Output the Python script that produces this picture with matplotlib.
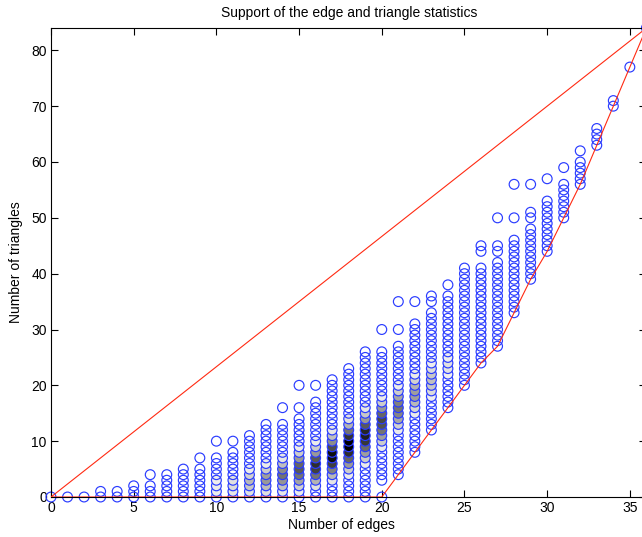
import matplotlib
matplotlib.use("Agg")
import matplotlib.pyplot as plt

plt.rcParams["font.family"] = ["Liberation Sans", "DejaVu Sans"]

# achievable triangle counts for each edge count, as runs [lo, hi]
edge_counts = list(range(37))
support_runs = [
    [(0, 0)], [(0, 0)], [(0, 0)], [(0, 1)], [(0, 1)], [(0, 2)],
    [(0, 2), (4, 4)], [(0, 4)], [(0, 5)], [(0, 5), (7, 7)],
    [(0, 7), (10, 10)], [(0, 8), (10, 10)], [(0, 11)], [(0, 13)],
    [(0, 13), (16, 16)], [(0, 14), (16, 16), (20, 20)], [(0, 17), (20, 20)],
    [(0, 21)], [(0, 23)], [(0, 26)], [(0, 0), (3, 26), (30, 30)],
    [(4, 27), (30, 30), (35, 35)], [(8, 31), (35, 35)], [(12, 33), (35, 36)],
    [(16, 36), (38, 38)], [(20, 41)], [(24, 41), (44, 45)],
    [(27, 42), (44, 45), (50, 50)], [(33, 46), (50, 50), (56, 56)],
    [(39, 48), (50, 51), (56, 56)], [(44, 53), (57, 57)], [(50, 56), (59, 59)],
    [(56, 60), (62, 62)], [(63, 66)], [(70, 71)], [(77, 77)], [(84, 84)],
]

# grey fill of the frequent points: edge count -> (first triangle count, grey levels)
shade = {
    10: (1, [0.93, 0.92, 0.93]),
    11: (1, [0.9, 0.86, 0.88]),
    12: (1, [0.88, 0.78, 0.72, 0.82, 0.92]),
    13: (1, [0.88, 0.74, 0.6, 0.62, 0.8, 0.92]),
    14: (1, [0.9, 0.76, 0.58, 0.45, 0.55, 0.75, 0.9]),
    15: (1, [0.92, 0.82, 0.64, 0.45, 0.35, 0.4, 0.6, 0.8, 0.92]),
    16: (2, [0.88, 0.7, 0.45, 0.25, 0.18, 0.35, 0.6, 0.8, 0.92]),
    17: (3, [0.9, 0.72, 0.5, 0.25, 0.05, 0.05, 0.3, 0.55, 0.75, 0.9]),
    18: (4, [0.92, 0.8, 0.6, 0.4, 0.18, 0.0, 0.0, 0.2, 0.45, 0.7, 0.88]),
    19: (6, [0.92, 0.8, 0.62, 0.42, 0.22, 0.12, 0.15, 0.35, 0.6, 0.78, 0.9]),
    20: (9, [0.92, 0.8, 0.62, 0.45, 0.32, 0.28, 0.4, 0.6, 0.8, 0.92]),
    21: (12, [0.92, 0.82, 0.66, 0.52, 0.45, 0.5, 0.65, 0.8, 0.92]),
    22: (15, [0.92, 0.84, 0.72, 0.62, 0.62, 0.7, 0.82, 0.92]),
    23: (18, [0.93, 0.86, 0.78, 0.75, 0.78, 0.86, 0.93]),
    24: (22, [0.94, 0.89, 0.88, 0.93]),
}

# red bounds
upper_x = [0, 36]
upper_y = [0, 84]
lower_x = [0, 20, 21, 22, 23, 24, 25, 26, 27, 28, 29, 30, 31, 32, 33, 34, 35, 36]
lower_y = [0, 0, 4, 8, 12, 16, 20, 24, 27, 33, 39, 44, 50, 56, 63, 70, 77, 84]

xs, ys, fcs = [], [], []
for m, runs in zip(edge_counts, support_runs):
    t0, greys = shade.get(m, (0, []))
    for lo, hi in runs:
        for t in range(lo, hi + 1):
            xs.append(m)
            ys.append(t)
            k = t - t0
            if 0 <= k < len(greys):
                g = greys[k]
                fcs.append((g, g, g))
            else:
                fcs.append("none")

fig = plt.figure(figsize=(6.42, 5.37), dpi=100)
# axes runs past the right edge of the figure, as in the original crop
ax = fig.add_axes([51 / 642, 40 / 537, 595.4 / 642, 469 / 537])

ax.scatter(xs, ys, s=50, facecolors=fcs, edgecolors="#2a3cff", linewidths=0.85,
           clip_on=False, zorder=2)
ax.plot(upper_x, upper_y, color="#ff2a12", lw=0.8, zorder=3)
ax.plot(lower_x, lower_y, color="#ff2a12", lw=0.8, zorder=3)

ax.set_xlim(0, 36)
ax.set_ylim(0, 84)
ax.set_xticks(range(0, 36, 5))
ax.set_yticks(range(0, 81, 10))
ax.tick_params(direction="in", top=True, right=True, length=5, labelsize=10, pad=3)
for s in ax.spines.values():
    s.set_linewidth(0.8)

ax.set_title("Support of the edge and triangle statistics", fontsize=10, pad=8)
ax.set_xlabel("Number of edges", fontsize=10, labelpad=2)
ax.set_ylabel("Number of triangles", fontsize=10, labelpad=6)
ax.xaxis.set_label_coords(0.487, -0.045)

fig.savefig("out.png", dpi=100)
